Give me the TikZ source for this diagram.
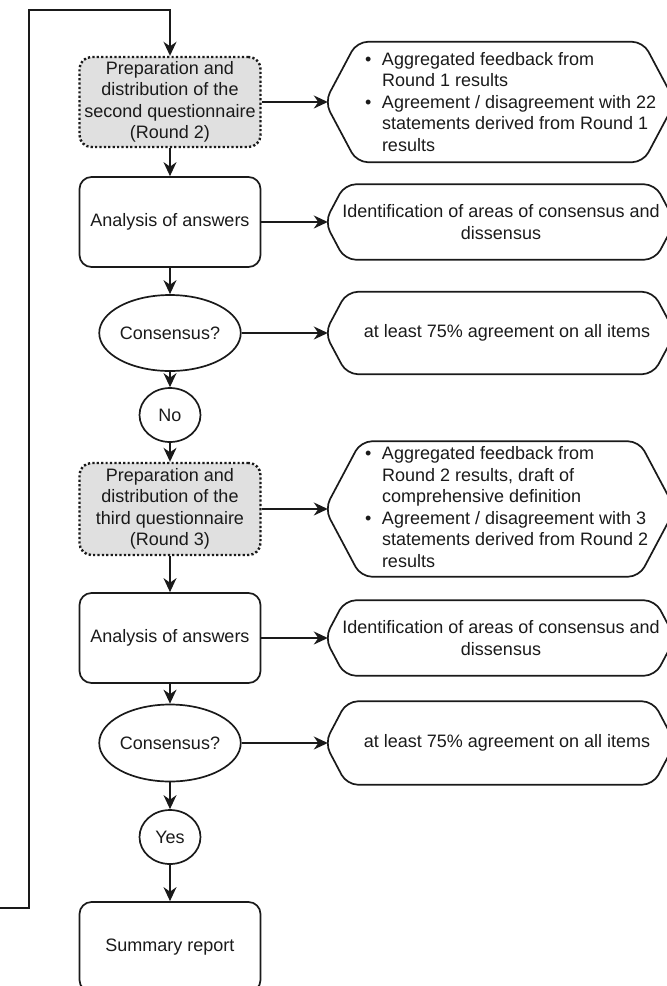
\documentclass[tikz,border=0pt]{standalone}
\usepackage{fontspec}
\setmainfont{Liberation Sans}
\usetikzlibrary{shapes.geometric,arrows.meta,calc}
\definecolor{prepgrey}{HTML}{E0E0E0}
\definecolor{ink}{HTML}{1A1A1A}
\newcommand\hexoutline[2]{%
  \draw[hexline] (#1.west) -- ([xshift=#2pt]#1.north west) -- ([xshift=-#2pt]#1.north east)
    -- (#1.east) -- ([xshift=-#2pt]#1.south east) -- ([xshift=#2pt]#1.south west) -- cycle;}
\begin{document}
\begin{tikzpicture}[x=1pt,y=-1pt,
  every node/.style={font=\fontsize{18}{21.5}\selectfont, inner sep=0pt, text=ink},
  proc/.style={draw=ink, line width=1.7pt, rounded corners=12pt, minimum width=181pt, minimum height=90pt, align=center},
  prep/.style={proc, fill=prepgrey, line width=2.4pt, dash pattern=on 2.2pt off 2.2pt},
  dec/.style={draw=ink, ellipse, line width=1.7pt, minimum width=121pt, minimum height=76pt},
  smallell/.style={draw=ink, ellipse, line width=1.7pt, minimum width=61pt, minimum height=54pt},
  hexbox/.style={minimum width=350pt},
  hexline/.style={draw=ink, line width=1.7pt, rounded corners=11pt},
  arr/.style={draw=ink, line width=1.7pt, -{Stealth[length=14pt,width=13pt,inset=4.5pt]}}]
\useasboundingbox (0,0) rectangle (667,986);

% left column
\node[prep] (b1) at (170,102) {Preparation and\\distribution of the\\second questionnaire\\(Round 2)};
\node[proc] (b2) at (170,222) {Analysis of answers};
\node[dec] (d1) at (170,333) {Consensus?};
\node[smallell] (no) at (170,415) {No};
\node[prep, minimum height=92pt] (b3) at (170,509) {Preparation and\\distribution of the\\third questionnaire\\(Round 3)};
\node[proc] (b4) at (170,638) {Analysis of answers};
\node[dec, minimum height=77pt] (d2) at (170,743) {Consensus?};
\node[smallell] (yes) at (170,837) {Yes};
\node[proc] (b5) at (170,947) {Summary report};

% right column hexagons
\node[hexbox, minimum height=120pt] (h1) at (500,102) {};
\node[hexbox, minimum height=75pt] (h2) at (500,222) {};
\node[hexbox, minimum height=82pt] (h3) at (500,333) {};
\node[hexbox, minimum height=135pt] (h4) at (500,509) {};
\node[hexbox, minimum height=75pt] (h5) at (500,638) {};
\node[hexbox, minimum height=83pt] (h6) at (500,743) {};
\hexoutline{h1}{32}\hexoutline{h2}{20}\hexoutline{h3}{22}\hexoutline{h4}{36}\hexoutline{h5}{20}\hexoutline{h6}{22}

\node[anchor=west] (t1) at (365,104) {\begin{tabular}{@{}l@{\hspace{10.5pt}}l@{}}
\textbullet & Aggregated feedback from\\
 & Round 1 results\\
\textbullet & Agreement / disagreement with 22\\
 & statements derived from Round 1\\
 & results\end{tabular}};
\node[align=center] (t2) at (501,222) {Identification of areas of consensus and\\dissensus};
\node (t3) at (507,333) {at least 75\% agreement on all items};
\node[anchor=west] (t4) at (365,509) {\begin{tabular}{@{}l@{\hspace{10.5pt}}l@{}}
\textbullet & Aggregated feedback from\\
 & Round 2 results, draft of\\
 & comprehensive definition\\
\textbullet & Agreement / disagreement with 3\\
 & statements derived from Round 2\\
 & results\end{tabular}};
\node[align=center] (t5) at (501,638) {Identification of areas of consensus and\\dissensus};
\node (t6) at (507,743) {at least 75\% agreement on all items};

% vertical flow
\draw[arr] (b1) -- (b2);
\draw[arr] (b2) -- (d1);
\draw[arr] (d1) -- (no);
\draw[arr] (no) -- (b3);
\draw[arr] (b3) -- (b4);
\draw[arr] (b4) -- (d2);
\draw[arr] (d2) -- (yes);
\draw[arr] (yes) -- (b5);

% horizontal arrows
\draw[arr] (b1.east) -- ([xshift=3pt]h1.west);
\draw[arr] (b2.east) -- ([xshift=3pt]h2.west);
\draw[arr] (d1.east) -- ([xshift=3pt]h3.west);
\draw[arr] (b3.east) -- ([xshift=3pt]h4.west);
\draw[arr] (b4.east) -- ([xshift=3pt]h5.west);
\draw[arr] (d2.east) -- ([xshift=3pt]h6.west);

% loop back
\coordinate (lin) at (0,908);
\coordinate (lbot) at (29,908);
\coordinate (ltop) at (29,10);
\draw[arr] (lin) -- (lbot) -- (ltop) -| (b1.north);
\end{tikzpicture}
\end{document}
